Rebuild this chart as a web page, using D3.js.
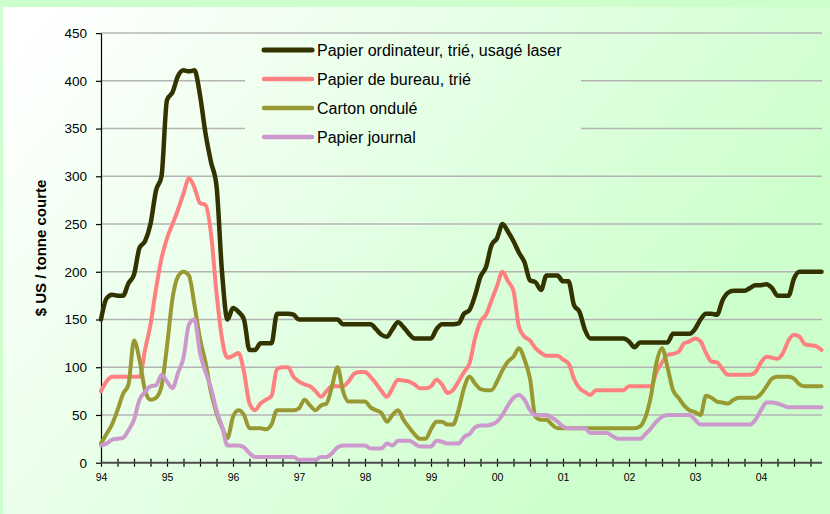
<!DOCTYPE html>
<html><head><meta charset="utf-8">
<script src="https://cdn.jsdelivr.net/npm/d3@7"></script>
<style>html,body{margin:0;padding:0;background:#ccffcc;} svg{display:block;}</style>
</head><body><svg id="c" width="830" height="514"></svg>
<script>
// ---- data (monthly, Jan 1994 .. Dec 2004) ----
const years = ["94","95","96","97","98","99","00","01","02","03","04"];
const yTicks = [0,50,100,150,200,250,300,350,400,450];
const seriesNames = ["Papier ordinateur, trié, usagé laser","Papier de bureau, trié","Carton ondulé","Papier journal"];
const ordinateur = [
150,172,176,175,175,188,197,225,232,250,
285,300,380,388,405,411,410,411,385,345,
315,290,200,150,162,158,150,118,118,125,
125,125,156,156,156,155,150,150,150,150,
150,150,150,150,145,145,145,145,145,145,
140,134,132,140,147,142,135,130,130,130,
130,140,145,145,145,146,156,160,175,195,
205,228,235,250,242,232,220,210,191,189,
181,196,196,196,190,190,165,158,139,130,
130,130,130,130,130,130,127,121,126,126,
126,126,126,126,135,135,135,135,140,150,
156,156,155,170,178,180,180,180,183,186,
186,187,183,175,175,175,193,200,200,200,200,200];
const bureau = [
75,85,90,90,90,90,90,90,118,145,
182,214,235,250,265,282,298,288,272,270,
240,178,130,110,112,115,95,62,55,62,
66,70,98,100,100,90,85,82,80,75,
69,75,80,80,80,85,93,95,95,90,
83,75,69,78,87,86,85,82,78,78,
80,87,82,73,76,85,95,104,130,148,
155,170,185,200,190,180,142,132,128,120,
115,112,112,112,108,104,88,78,74,71,
76,76,76,76,76,76,80,80,80,80,
80,95,105,113,114,116,125,127,130,127,
115,106,105,98,92,92,92,92,92,95,
105,111,110,109,115,128,134,132,124,123,122,118];
const carton = [
20,30,40,55,72,82,128,108,76,66,
68,80,122,172,195,200,196,165,130,105,
74,52,37,26,48,55,50,36,36,36,
35,40,55,55,55,55,57,66,60,55,
60,62,80,100,75,64,64,64,64,58,
55,52,43,50,55,45,37,30,25,25,
35,43,43,40,40,55,78,90,83,77,
76,76,85,97,106,111,120,108,88,48,
45,45,40,36,36,36,36,36,36,36,
36,36,36,36,36,36,36,36,38,48,
70,105,120,100,76,68,60,55,53,50,
70,68,64,63,62,66,68,68,68,68,
72,80,88,90,90,90,88,82,80,80,80,80];
const journal = [
18,20,24,25,26,34,45,66,74,80,
81,92,85,78,94,110,145,150,115,95,
78,55,38,18,18,18,16,10,6,6,
6,6,6,6,6,6,3,3,3,3,
6,6,10,16,18,18,18,18,18,15,
15,15,20,18,23,23,23,20,17,17,
17,23,22,20,20,20,27,30,37,39,
39,40,43,50,60,68,71,66,55,50,
50,50,47,43,38,36,36,36,36,31,
31,31,31,28,25,25,25,25,25,30,
36,43,48,50,50,50,50,50,45,40,
40,40,40,40,40,40,40,40,40,45,
55,63,63,62,60,58,58,58,58,58,58,58];

// ---- styles ----
const colors = ["#333300","#ff8080","#999933","#cc99cc"];
const series = [ordinateur, bureau, carton, journal];

const svg = d3.select("#c");
const defs = svg.append("defs");
const grad = defs.append("linearGradient").attr("id","bg")
  .attr("gradientUnits","userSpaceOnUse")
  .attr("x1",40).attr("y1",10).attr("x2",600).attr("y2",470);
grad.append("stop").attr("offset","0%").attr("stop-color","#ffffff");
grad.append("stop").attr("offset","100%").attr("stop-color","#ccffcc");

svg.append("rect").attr("width",830).attr("height",514).attr("fill","#ccffcc");
svg.append("rect").attr("x",3).attr("y",7).attr("width",827).attr("height",507).attr("fill","url(#bg)");

const x = d3.scaleLinear().domain([0,131]).range([101,821.5]);
const y = d3.scaleLinear().domain([0,450]).range([462.7,33.1]);

// gridlines
svg.append("g").selectAll("line").data(yTicks.filter(d=>d>0)).join("line")
  .attr("x1",101).attr("x2",822).attr("y1",d=>y(d)).attr("y2",d=>y(d))
  .attr("stroke","#b4b4b4").attr("stroke-width",1.5);

// legend background box (covers gridlines)
svg.append("rect").attr("x",245).attr("y",37).attr("width",336).attr("height",128).attr("fill","url(#bg)");

// y axis
const ya = svg.append("g").attr("transform","translate(101,0)")
  .call(d3.axisLeft(y).tickValues(yTicks).tickSize(5).tickSizeOuter(0).tickPadding(9));
ya.select(".domain").attr("stroke","#000").attr("stroke-width",1.2);
ya.selectAll(".tick line").attr("stroke","#000").attr("stroke-width",1.2);
ya.selectAll("text").attr("font-family","Liberation Sans, Arial, sans-serif").attr("font-size",13.5).attr("fill","#000");

// x axis
const xa = svg.append("g").attr("transform",`translate(0,${y(0)})`)
  .call(d3.axisBottom(x).tickValues(d3.range(0,132,3)).tickSize(0).tickSizeOuter(0).tickPadding(11)
    .tickFormat(d => d % 12 === 0 ? years[d/12] : ""));
xa.select(".domain").remove();
xa.append("line").attr("x1",101).attr("x2",822).attr("y1",0).attr("y2",0).attr("stroke","#4a4a4a").attr("stroke-width",2);
xa.selectAll(".tick").append("line").attr("y1",-4).attr("y2",4).attr("stroke","#000").attr("stroke-width",1.2);
xa.selectAll("text").attr("font-family","Liberation Sans Narrow, Arial Narrow, sans-serif").attr("font-size",10.5).attr("fill","#000");

// y title
svg.append("text").attr("transform","translate(46,248) rotate(-90)")
  .attr("text-anchor","middle").attr("font-family","Liberation Sans, Arial, sans-serif")
  .attr("font-weight","bold").attr("font-size",15).text("$ US / tonne courte");

// series lines
const line = d3.line().x((d,i)=>x(i)).y(d=>y(d)).curve(d3.curveMonotoneX);
svg.append("g").selectAll("path").data(series).join("path")
  .attr("d",line).attr("fill","none")
  .attr("stroke",(d,i)=>colors[i]).attr("stroke-width",(d,i)=>i===0?4.5:4)
  .attr("stroke-linejoin","round").attr("stroke-linecap","round");

// legend
const lg = svg.append("g").selectAll("g").data(seriesNames).join("g")
  .attr("transform",(d,i)=>`translate(0,${50+i*29})`);
lg.append("line").attr("x1",264).attr("x2",312).attr("y1",0).attr("y2",0)
  .attr("stroke",(d,i)=>colors[i]).attr("stroke-width",(d,i)=>i===0?5:4.5).attr("stroke-linecap","round");
lg.append("text").attr("x",317).attr("y",6).attr("font-family","Liberation Sans, Arial, sans-serif")
  .attr("font-size",16).attr("fill","#000").text(d=>d);
</script></body></html>
